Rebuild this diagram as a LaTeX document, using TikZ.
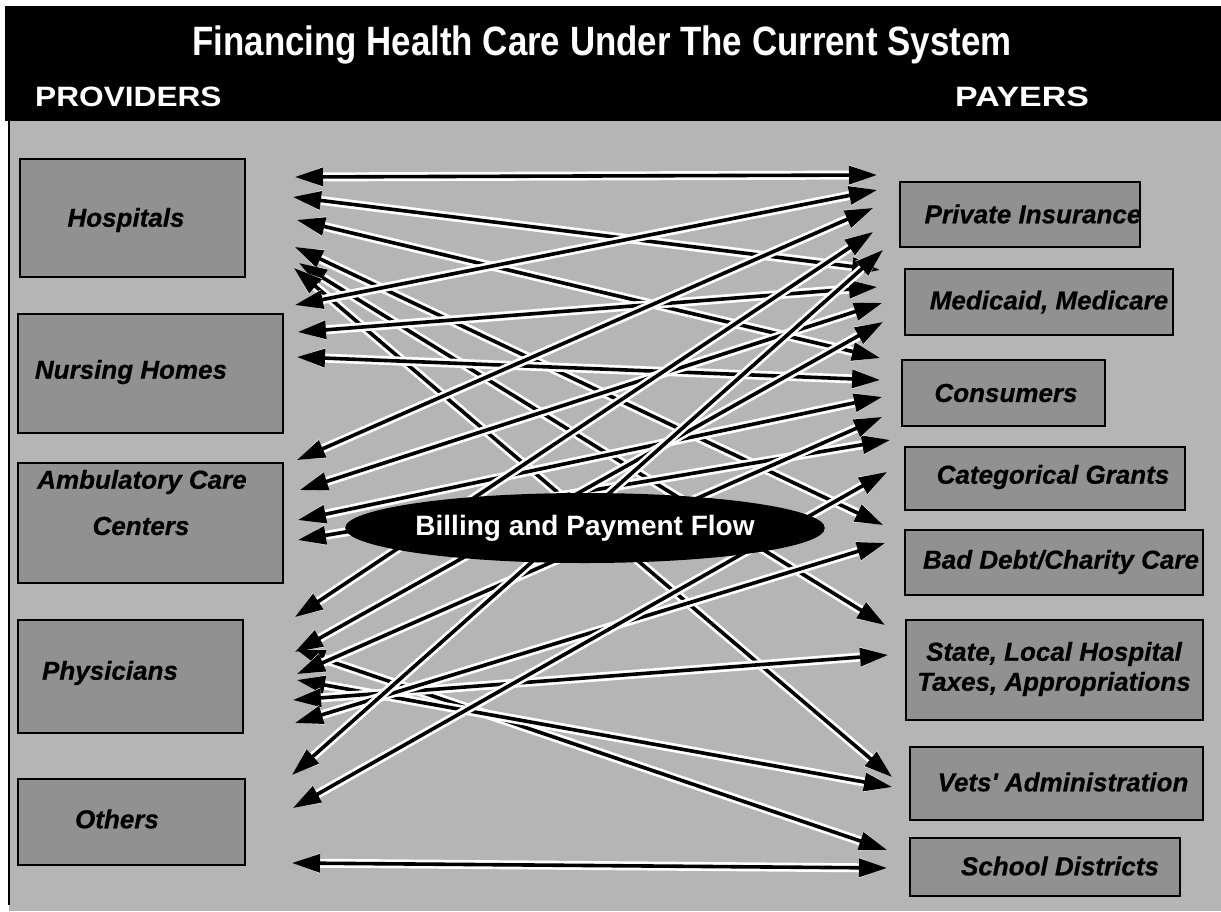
\documentclass[tikz,border=0pt]{standalone}
\usepackage{fontspec}
\setmainfont{Liberation Sans}
\newfontfamily\labelfont{Liberation Sans}[BoldItalicFeatures={FakeBold=0.6}]
\usetikzlibrary{arrows.meta,shapes.geometric}
\definecolor{bggray}{gray}{0.71}
\definecolor{boxgray}{gray}{0.57}
\begin{document}
\begin{tikzpicture}[x=1pt,y=-1pt,
  box/.style={draw=black, line width=2.2pt, fill=boxgray, inner sep=0pt},
  boxtext/.style={inner sep=0pt, align=center,
    font=\labelfont\fontsize{26}{30}\selectfont\bfseries\itshape},
  headtext/.style={text=white, inner sep=0pt, font=\bfseries},
  flow/.style={{Triangle[length=28pt,width=18pt]}-{Triangle[length=28pt,width=18pt]},
    line width=3.6pt,
    preaction={draw=white, line width=9pt, line join=round}},
]
\useasboundingbox (0,0) rectangle (1221,911);
\fill[white] (0,0) rectangle (1221,911);
% shaded field and left rule
\fill[bggray] (9,121) rectangle (1221,911);
\draw[line width=2pt] (9,121) -- (9,905);
% title band
\fill[black] (5,6) rectangle (1221,121);
\node[headtext, font=\fontsize{41}{44}\selectfont\bfseries] (title) at (602,45)
  {\scalebox{0.85}[1]{Financing Health Care Under The Current System}};
\node[headtext, font=\fontsize{28}{32}\selectfont\bfseries, anchor=west] (prov) at (35,97)
  {\scalebox{1.13}[1]{PROVIDERS}};
\node[headtext, font=\fontsize{28}{32}\selectfont\bfseries, anchor=west] (pay) at (955,97)
  {\scalebox{1.21}[1]{PAYERS}};

% providers
\node[box, minimum width=225pt, minimum height=118pt] (hosp) at (132.5,218) {};
\node[boxtext] (hosp-t) at (126,220) {Hospitals};
\node[box, minimum width=265pt, minimum height=119pt] (nurs) at (150.5,373.5) {};
\node[boxtext] (nurs-t) at (131,372) {Nursing Homes};
\node[box, minimum width=265pt, minimum height=120pt] (amb) at (150.5,523) {};
\node[boxtext] (amb-t1) at (142,482) {Ambulatory Care};
\node[boxtext] (amb-t2) at (141,526) {Centers};
\node[box, minimum width=225pt, minimum height=113pt] (phys) at (130.5,676.5) {};
\node[boxtext] (phys-t) at (110,673) {Physicians};
\node[box, minimum width=227pt, minimum height=86pt] (oth) at (131.5,822) {};
\node[boxtext] (oth-t) at (117,819) {Others};

% payers
\node[box, minimum width=240pt, minimum height=65pt] (priv) at (1020,214.5) {};
\node[boxtext] (priv-t) at (1033,214) {Private Insurance};
\node[box, minimum width=268pt, minimum height=66pt] (medi) at (1039,302) {};
\node[boxtext] (medi-t) at (1049,302) {Medicaid, Medicare};
\node[box, minimum width=203pt, minimum height=66pt] (cons) at (1003.5,393) {};
\node[boxtext] (cons-t) at (1006,393) {Consumers};
\node[box, minimum width=280pt, minimum height=63pt] (cat) at (1045,478.5) {};
\node[boxtext] (cat-t) at (1053,477) {Categorical Grants};
\node[box, minimum width=298pt, minimum height=65pt] (bad) at (1054,562.5) {};
\node[boxtext] (bad-t) at (1061,562) {Bad Debt/Charity Care};
\node[box, minimum width=297pt, minimum height=100pt] (state) at (1054.5,670) {};
\node[boxtext] (state-t) at (1054,669) {State, Local Hospital\\Taxes, Appropriations};
\node[box, minimum width=293pt, minimum height=73pt] (vets) at (1056.5,783.5) {};
\node[boxtext] (vets-t) at (1063,782) {Vets' Administration};
\node[box, minimum width=270pt, minimum height=58pt] (school) at (1045,867) {};
\node[boxtext] (school-t) at (1060,866) {School Districts};

% arrow ends on the provider side
\coordinate (hos-pri) at (295,177);
\coordinate (hos-med) at (293,197);
\coordinate (hos-con) at (297,220);
\coordinate (hos-bad) at (295,247);
\coordinate (hos-sta) at (299,263);
\coordinate (hos-vet) at (294,268);
\coordinate (nur-pri) at (295,305);
\coordinate (nur-med) at (298,332);
\coordinate (nur-con) at (297,357);
\coordinate (amb-pri) at (297,460);
\coordinate (amb-med) at (300,490);
\coordinate (amb-con) at (298,520);
\coordinate (amb-cat) at (298,540);
\coordinate (phy-pri) at (295,617);
\coordinate (phy-med) at (295,652);
\coordinate (phy-sch) at (297,650);
\coordinate (phy-con) at (297,674);
\coordinate (phy-vet) at (297,680);
\coordinate (phy-sta) at (293,700);
\coordinate (phy-bad) at (295,723);
\coordinate (oth-med) at (292,775);
\coordinate (oth-cat) at (293,808);
\coordinate (oth-sch) at (292,863);
% arrow ends on the payer side
\coordinate (pri-hos) at (877,175);
\coordinate (pri-nur) at (877,190);
\coordinate (pri-amb) at (873,208);
\coordinate (pri-phy) at (873,232);
\coordinate (med-oth) at (883,250);
\coordinate (med-hos) at (880,270);
\coordinate (med-nur) at (877,287);
\coordinate (med-amb) at (882,303);
\coordinate (med-phy) at (883,322);
\coordinate (con-hos) at (880,358);
\coordinate (con-nur) at (880,380);
\coordinate (con-amb) at (882,397);
\coordinate (con-phy) at (882,417);
\coordinate (cat-amb) at (890,440);
\coordinate (cat-oth) at (887,472);
\coordinate (bad-hos) at (883,525);
\coordinate (bad-phy) at (885,543);
\coordinate (sta-hos) at (885,625);
\coordinate (sta-phy) at (888,655);
\coordinate (vet-hos) at (892,777);
\coordinate (vet-phy) at (892,787);
\coordinate (sch-phy) at (887,850);
\coordinate (sch-oth) at (887,868);

% billing and payment flows
\foreach \a/\b in {hos-pri/pri-hos, hos-med/med-hos, hos-con/con-hos, hos-bad/bad-hos,
    hos-sta/sta-hos, hos-vet/vet-hos,
    nur-pri/pri-nur, nur-med/med-nur, nur-con/con-nur,
    amb-pri/pri-amb, amb-med/med-amb, amb-con/con-amb, amb-cat/cat-amb,
    phy-pri/pri-phy, phy-med/med-phy, phy-sch/sch-phy, phy-con/con-phy,
    phy-vet/vet-phy, phy-sta/sta-phy, phy-bad/bad-phy,
    oth-med/med-oth, oth-cat/cat-oth, oth-sch/sch-oth}
  \draw[flow] (\a) -- (\b);

\node[ellipse, fill=black, text=white, inner sep=0pt, minimum width=436pt, minimum height=70pt,
  font=\fontsize{28}{32}\selectfont\bfseries] (bpf) at (585,528) {Billing and Payment Flow};
\end{tikzpicture}
\end{document}
